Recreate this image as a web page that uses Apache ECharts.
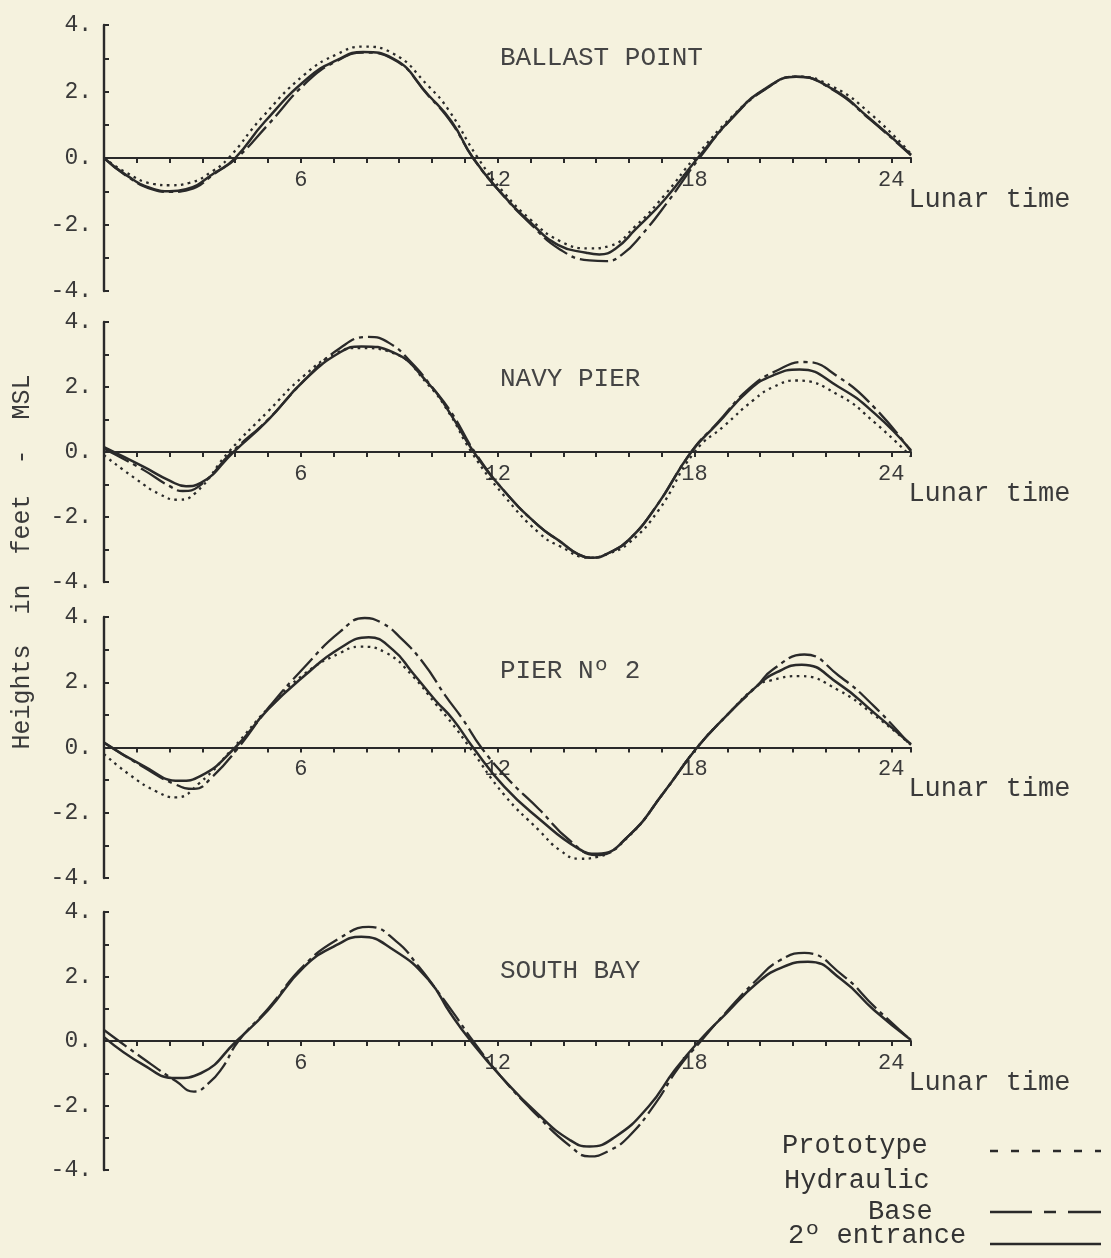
<!DOCTYPE html>
<html><head><meta charset="utf-8">
<script src="https://cdn.jsdelivr.net/npm/echarts@6/dist/echarts.min.js"></script>
<style>html,body{margin:0;padding:0;background:#f5f2de}#c{width:1111px;height:1258px}</style>
</head><body><div id="c"></div><script>
// ---- data (lunar hour, height in feet above MSL) ----
const stations = ['BALLAST POINT', 'NAVY PIER', 'PIER Nº 2', 'SOUTH BAY'];
const xTickLabels = [6, 12, 18, 24];
const yTickLabels = [-4, -2, 0, 2, 4];
const xAxisName = 'Lunar time';
const yAxisName = 'Heights  in  feet  -  MSL';
const legendNames = ['Prototype', 'Hydraulic', 'Base', '2º entrance'];

const ballastPrototype = [[0,0],[0.7,-0.45],[1.5,-0.78],[2.0,-0.82],[2.6,-0.75],[3.3,-0.4],[3.8,0],[4.8,1.2],[6.1,2.5],[7.1,3.12],[7.9,3.35],[8.8,3.15],[9.9,2.15],[10.5,1.45],[11.4,0],[12.2,-1.05],[13.0,-1.85],[13.9,-2.5],[14.8,-2.72],[15.4,-2.65],[16.2,-2.05],[17.1,-1.1],[18.0,0],[19.2,1.3],[20.2,2.1],[21.1,2.45],[22.2,2.15],[23.4,1.3],[24.6,0.12]];
const ballastBase = [[0,0],[0.7,-0.55],[1.5,-0.95],[2.0,-1.02],[2.6,-0.95],[3.4,-0.45],[4.05,0],[5.0,1.0],[6.2,2.3],[7.1,2.92],[7.9,3.17],[8.8,2.98],[9.9,1.86],[10.6,1.05],[11.25,0],[12.1,-1.05],[13.0,-1.98],[13.9,-2.75],[14.8,-3.08],[15.3,-3.1],[15.8,-2.9],[16.4,-2.3],[17.2,-1.3],[18.15,0],[19.2,1.25],[20.15,2.06],[21.1,2.45],[22.2,2.06],[23.35,1.16],[24.6,0.08]];
const ballastEntrance = [[0,0],[0.7,-0.53],[1.5,-0.93],[2.0,-1.0],[2.5,-0.94],[3.4,-0.43],[4.0,0],[4.9,1.09],[6.2,2.39],[7.1,2.94],[7.9,3.19],[8.8,3.0],[9.9,1.88],[10.6,1.09],[11.25,0],[12.1,-1.04],[13.0,-1.94],[13.85,-2.62],[14.7,-2.85],[15.1,-2.9],[15.6,-2.72],[16.2,-2.15],[17.1,-1.24],[18.1,0],[19.2,1.27],[20.15,2.08],[21.1,2.44],[22.2,2.08],[23.35,1.18],[24.6,0.1]];

const navyPrototype = [[0,-0.1],[1.0,-0.85],[1.7,-1.3],[2.25,-1.47],[2.8,-1.25],[3.8,0],[5.0,1.25],[6.1,2.35],[7.1,3.05],[7.8,3.2],[8.8,3.05],[9.9,2.05],[10.55,1.15],[11.2,0],[12.2,-1.35],[13.27,-2.5],[13.9,-2.9],[14.8,-3.25],[15.4,-3.12],[16.0,-2.8],[16.9,-1.8],[18.0,0],[18.9,0.8],[19.8,1.6],[20.4,2.0],[21.1,2.2],[22.4,1.75],[23.5,0.9],[24.6,-0.14]];
const navyBase = [[0,0.1],[1.2,-0.55],[2.0,-1.05],[2.4,-1.2],[2.9,-1.05],[3.9,0],[5.0,1.0],[6.1,2.2],[7.2,3.2],[8.05,3.54],[8.7,3.35],[9.37,2.75],[10.0,2.0],[10.6,1.2],[11.3,0],[12.2,-1.2],[13.27,-2.29],[13.9,-2.75],[14.46,-3.15],[14.9,-3.25],[15.4,-3.1],[16.0,-2.7],[16.83,-1.68],[17.9,0],[18.7,0.9],[19.66,1.95],[20.5,2.5],[21.35,2.77],[22.4,2.3],[23.5,1.35],[24.6,0.02]];
const navyEntrance = [[0,0.15],[1.2,-0.45],[2.0,-0.88],[2.5,-1.05],[2.95,-0.95],[3.95,0],[5.0,0.98],[6.1,2.2],[7.2,3.07],[7.85,3.25],[8.8,3.07],[9.9,2.1],[10.55,1.19],[11.27,0],[12.2,-1.2],[13.27,-2.29],[13.9,-2.75],[14.46,-3.15],[14.9,-3.25],[15.4,-3.1],[16.0,-2.7],[16.83,-1.68],[17.9,0],[18.7,0.87],[19.66,1.9],[20.4,2.36],[21.2,2.54],[22.4,2.0],[23.5,1.18],[24.6,0.05]];

const pierPrototype = [[0,-0.2],[0.8,-0.85],[1.6,-1.35],[2.19,-1.53],[2.9,-1.1],[3.95,0],[5.0,1.2],[6.1,2.25],[7.2,2.9],[7.8,3.09],[8.6,2.9],[9.4,2.2],[10.1,1.35],[10.6,0.75],[11.15,0],[12.2,-1.45],[13.27,-2.55],[13.9,-3.15],[14.5,-3.41],[15.05,-3.35],[16.0,-2.72],[17.07,-1.37],[18.08,0],[18.97,0.97],[19.9,1.88],[20.3,2.05],[21.2,2.19],[22.4,1.75],[23.47,1.0],[24.6,0.08]];
const pierBase = [[0,0.15],[1.2,-0.6],[2.1,-1.1],[2.74,-1.27],[3.3,-0.9],[4.1,0],[5.0,1.2],[6.1,2.45],[7.2,3.55],[7.95,3.97],[8.5,3.8],[9.0,3.4],[9.73,2.6],[10.4,1.6],[10.94,0.86],[11.5,0],[12.3,-0.95],[13.27,-1.9],[14.2,-2.85],[15.0,-3.3],[16.0,-2.7],[17.07,-1.37],[18.08,0],[18.97,0.97],[19.9,1.88],[20.4,2.4],[21.35,2.85],[22.4,2.2],[23.47,1.27],[24.6,0.05]];
const pierEntrance = [[0,0.15],[1.2,-0.56],[2.3,-1.02],[2.95,-0.87],[4.0,0],[5.0,1.17],[6.1,2.19],[7.2,3.05],[8.07,3.38],[8.8,3.0],[9.4,2.3],[10.1,1.45],[10.64,0.86],[11.25,0],[12.2,-1.2],[13.27,-2.19],[14.46,-3.1],[15.05,-3.26],[16.0,-2.7],[17.07,-1.37],[18.08,0],[18.97,0.97],[19.9,1.88],[20.5,2.3],[21.27,2.54],[22.4,1.95],[23.47,1.07],[24.6,0.1]];

const southBase = [[0,0.34],[1.2,-0.55],[2.2,-1.25],[2.74,-1.57],[3.2,-1.3],[3.6,-0.84],[4.1,0],[5.0,1.0],[6.1,2.35],[7.2,3.2],[8.07,3.54],[8.9,3.1],[9.6,2.3],[10.2,1.5],[10.7,0.8],[11.25,0],[12.1,-1.1],[13.2,-2.3],[14.2,-3.25],[14.8,-3.58],[15.4,-3.4],[16.0,-2.96],[16.8,-1.95],[17.5,-0.85],[18.2,0],[18.97,0.9],[19.9,1.9],[20.6,2.5],[21.35,2.73],[22.5,2.05],[23.5,1.05],[24.6,0.02]];
const southEntrance = [[0,0.12],[1.2,-0.74],[2.19,-1.15],[2.95,-1.0],[4.04,0],[5.0,0.96],[6.1,2.3],[7.08,2.97],[7.84,3.23],[8.83,2.82],[9.9,1.89],[10.56,0.86],[11.18,0],[12.1,-1.1],[13.2,-2.24],[14.2,-3.07],[14.8,-3.27],[15.6,-2.96],[16.6,-2.03],[17.4,-0.9],[18.14,0],[18.97,0.86],[19.9,1.79],[20.6,2.25],[21.46,2.46],[22.5,1.89],[23.47,0.96],[24.6,0.03]];

const panelSeries = [
  [ballastPrototype, ballastBase, ballastEntrance],
  [navyPrototype, navyBase, navyEntrance],
  [pierPrototype, pierBase, pierEntrance],
  [null, southBase, southEntrance]
];

// ---- layout / style ----
const INK = '#2a2a2a';
const MONO = '"Liberation Mono", "DejaVu Sans Mono", monospace';
const gridBoxes = [[25, 266], [322, 260], [617, 261], [912, 258]];
const titleY = [58, 379, 671, 971];
const lineTypes = [[2.5, 4.5], [28, 5, 4, 5], 'solid'];
const lineWidths = [2.3, 2.3, 2.5];
const seriesKeys = ['Prototype', 'Base', '2º entrance'];

const grids = [], xAxes = [], yAxes = [], series = [], graphics = [];
gridBoxes.forEach((g, i) => {
  grids.push({ left: 104, right: 200, top: g[0], height: g[1], outerBoundsMode: 'none', containLabel: false });
  xAxes.push({
    type: 'value', gridIndex: i, min: 0, max: 24.6, interval: 1,
    position: 'bottom', offset: -g[1] / 2,
    name: xAxisName, nameLocation: 'end', nameGap: -4,
    nameTextStyle: { fontFamily: MONO, fontSize: 27, color: '#3a3a3a', verticalAlign: 'top', align: 'left', padding: [28, 0, 0, 0] },
    axisLine: { onZero: false, lineStyle: { color: INK, width: 2 } },
    axisTick: { show: true, length: 5, lineStyle: { color: INK, width: 2 } },
    axisLabel: {
      margin: 11, fontFamily: MONO, fontSize: 22, color: '#3a3a3a',
      formatter: v => (xTickLabels.indexOf(v) >= 0 ? String(v) : '')
    },
    splitLine: { show: false }
  });
  yAxes.push({
    type: 'value', gridIndex: i, min: -4, max: 4, interval: 1,
    axisLine: { show: true, onZero: false, lineStyle: { color: INK, width: 2.4 } },
    axisTick: { show: true, inside: true, length: 5, lineStyle: { color: INK, width: 2 } },
    axisLabel: {
      margin: 12, fontFamily: MONO, fontSize: 23, color: '#3a3a3a',
      formatter: v => (yTickLabels.indexOf(v) >= 0 ? v + '.' : '')
    },
    splitLine: { show: false }
  });
  panelSeries[i].forEach((d, k) => {
    if (!d) return;
    series.push({
      name: seriesKeys[k], type: 'line', xAxisIndex: i, yAxisIndex: i,
      data: d, smooth: 0.5, symbol: 'none', silent: true,
      z: 2 + k,
      lineStyle: { color: INK, width: lineWidths[k], type: lineTypes[k] }
    });
  });
  graphics.push({
    type: 'text', x: 500, y: titleY[i],
    style: { text: stations[i], font: '26px ' + MONO, fill: '#444', align: 'left', verticalAlign: 'middle', textAlign: 'left', textVerticalAlign: 'middle' }
  });
});

graphics.push({
  type: 'text', x: 22, y: 562, rotation: Math.PI / 2,
  style: { text: yAxisName, font: '25px ' + MONO, fill: '#3a3a3a', align: 'center', verticalAlign: 'middle', textAlign: 'center', textVerticalAlign: 'middle' }
});

// legend
const legendText = [[782, 1146], [784, 1181], [868, 1212], [788, 1236]];
legendNames.forEach((t, i) => {
  graphics.push({
    type: 'text', x: legendText[i][0], y: legendText[i][1],
    style: { text: t, font: '27px ' + MONO, fill: '#333', align: 'left', verticalAlign: 'middle', textAlign: 'left', textVerticalAlign: 'middle' }
  });
});
const legendLines = [[1151, [8, 13]], [1212, [42, 12, 12, 12]], [1244, null]];
legendLines.forEach(l => {
  graphics.push({
    type: 'line', shape: { x1: 990, y1: l[0], x2: 1101, y2: l[0] },
    style: { stroke: INK, lineWidth: 2.3, lineDash: l[1] }
  });
});

const chart = echarts.init(document.getElementById('c'), null, { renderer: 'canvas' });
chart.setOption({
  backgroundColor: '#f5f2de',
  animation: false,
  grid: grids, xAxis: xAxes, yAxis: yAxes, series: series,
  graphic: graphics
});
</script></body></html>
